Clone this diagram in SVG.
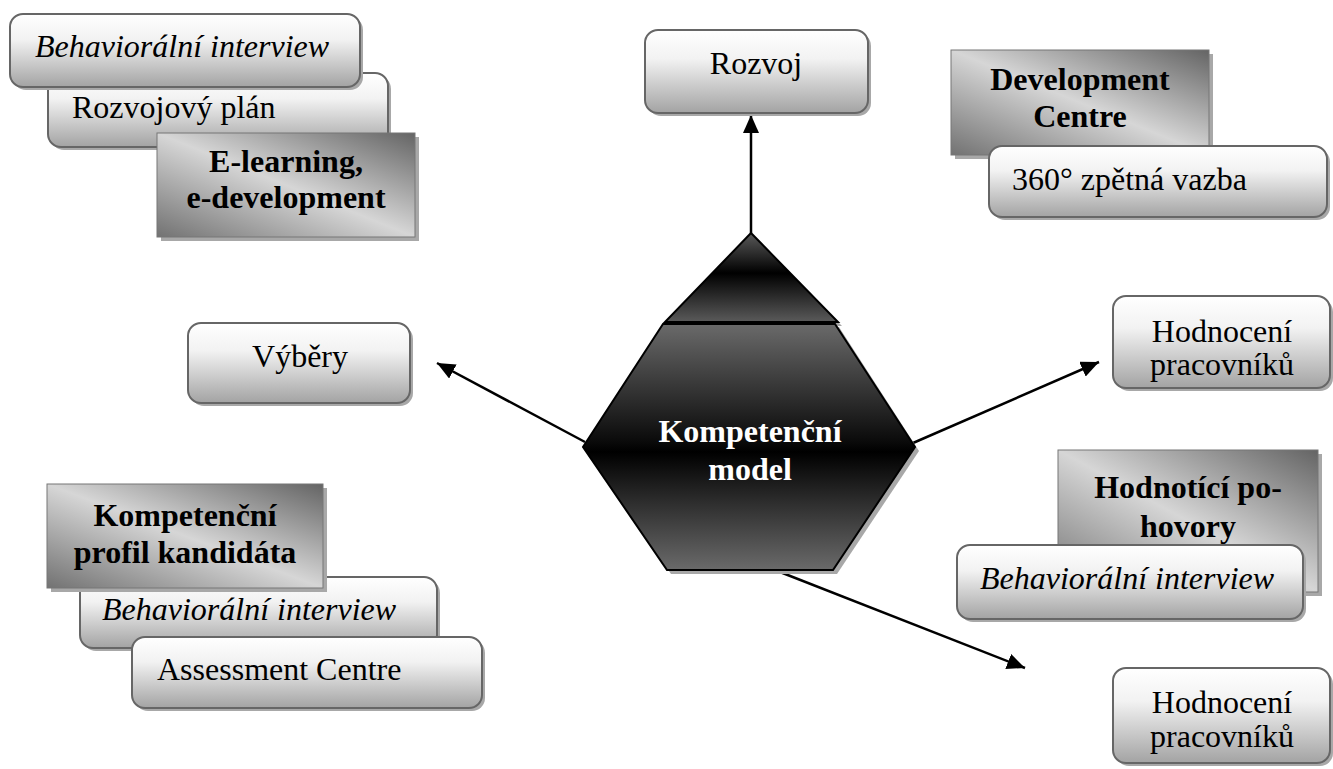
<svg xmlns="http://www.w3.org/2000/svg" width="1333" height="769" viewBox="0 0 1333 769" font-family="'Liberation Serif', 'Times New Roman', 'DejaVu Serif', serif">
<defs>
<linearGradient id="gBox" x1="0" y1="0" x2="0" y2="1">
<stop offset="0" stop-color="#ffffff"/>
<stop offset="0.35" stop-color="#f2f2f2"/>
<stop offset="1" stop-color="#a3a3a3"/>
</linearGradient>
<linearGradient id="gDark" x1="0" y1="1" x2="1" y2="0">
<stop offset="0" stop-color="#727272"/>
<stop offset="0.5" stop-color="#d6d6d6"/>
<stop offset="1" stop-color="#646464"/>
</linearGradient>
<linearGradient id="gHex" x1="0" y1="0" x2="0" y2="1">
<stop offset="0" stop-color="#6a6a6a"/>
<stop offset="0.48" stop-color="#0a0a0a"/>
<stop offset="0.52" stop-color="#000000"/>
<stop offset="1" stop-color="#6a6a6a"/>
</linearGradient>
<linearGradient id="gTri" x1="0" y1="0" x2="0" y2="1">
<stop offset="0" stop-color="#5a5a5a"/>
<stop offset="0.45" stop-color="#000000"/>
<stop offset="1" stop-color="#5a5a5a"/>
</linearGradient>
<marker id="arr" markerUnits="userSpaceOnUse" markerWidth="20" markerHeight="16" refX="18" refY="8" orient="auto">
<path d="M0,0 L18,8 L0,16 Z" fill="#000"/>
</marker>
<style>
.box{fill:url(#gBox);stroke:#666;stroke-width:2}
.dark{fill:url(#gDark);stroke:#777;stroke-width:1}
.sh{fill:#a8a8a8}
text{font-family:'Liberation Serif','Times New Roman','DejaVu Serif',serif;font-size:32px;fill:#000}
.i{font-style:italic}
.b{font-weight:bold}
.m{text-anchor:middle}
.w{fill:#fff}
.con{stroke:#000;stroke-width:2.5;fill:none;marker-end:url(#arr)}
</style>
</defs>

<g id="connectors">
<line class="con" x1="751" y1="233" x2="751" y2="115"/>
<line class="con" x1="585" y1="442" x2="437" y2="363"/>
<line class="con" x1="913" y1="443" x2="1099" y2="362"/>
<line class="con" x1="780" y1="572" x2="1025" y2="668"/>
</g>

<g id="center">
<polygon class="sh" points="755,237 842,326 669,326"/>
<polygon class="sh" points="667,327 839,327 919,451 837,574 671,574 587,451"/>
<polygon points="751,233 838,322 665,322" fill="url(#gTri)" stroke="#000" stroke-width="2"/>
<polygon points="663,324 835,324 915,447 833,570 667,570 583,447" fill="url(#gHex)" stroke="#000" stroke-width="2"/>
<text class="b m w" x="750" y="442">Kompetenční</text>
<text class="b m w" x="750" y="480">model</text>
</g>

<g id="rozvoj">
<rect class="sh" x="648" y="33" width="223" height="83" rx="13"/>
<rect class="box" x="645" y="30" width="223" height="83" rx="13"/>
<text class="m" x="756" y="74">Rozvoj</text>
</g>

<g id="rozvojovy-plan">
<rect class="sh" x="51" y="76" width="340" height="74" rx="13"/>
<rect class="box" x="48" y="73" width="340" height="74" rx="13"/>
<text x="72" y="118">Rozvojový plán</text>
</g>
<g id="behav-tl">
<rect class="sh" x="13" y="17" width="350" height="73" rx="13"/>
<rect class="box" x="10" y="14" width="350" height="73" rx="13"/>
<text class="i" x="35" y="57">Behaviorální interview</text>
</g>
<g id="elearning">
<rect class="sh" x="161" y="137" width="258" height="104"/>
<rect class="dark" x="157" y="133" width="258" height="104"/>
<text class="b m" x="286" y="172">E-learning,</text>
<text class="b m" x="286" y="208">e-development</text>
</g>

<g id="development-centre">
<rect class="sh" x="955" y="54" width="258" height="105"/>
<rect class="dark" x="951" y="50" width="258" height="105"/>
<text class="b m" x="1080" y="90">Development</text>
<text class="b m" x="1080" y="127">Centre</text>
</g>
<g id="feedback360">
<rect class="sh" x="992" y="149" width="338" height="71" rx="13"/>
<rect class="box" x="989" y="146" width="338" height="71" rx="13"/>
<text x="1012" y="190">360° zpětná vazba</text>
</g>

<g id="vybery">
<rect class="sh" x="191" y="326" width="222" height="80" rx="13"/>
<rect class="box" x="188" y="323" width="222" height="80" rx="13"/>
<text class="m" x="300" y="367">Výběry</text>
</g>

<g id="hodnoceni-1">
<rect class="sh" x="1116" y="299" width="217" height="92" rx="13"/>
<rect class="box" x="1113" y="296" width="217" height="92" rx="13"/>
<text class="m" x="1222" y="342">Hodnocení</text>
<text class="m" x="1222" y="375">pracovníků</text>
</g>

<g id="hodnotici-pohovory">
<rect class="sh" x="1062" y="454" width="260" height="142"/>
<rect class="dark" x="1058" y="450" width="260" height="142"/>
<text class="b m" x="1188" y="498">Hodnotící po-</text>
<text class="b m" x="1188" y="537">hovory</text>
</g>
<g id="behav-r">
<rect class="sh" x="960" y="548" width="346" height="74" rx="13"/>
<rect class="box" x="957" y="545" width="346" height="74" rx="13"/>
<text class="i" x="980" y="589">Behaviorální interview</text>
</g>

<g id="hodnoceni-2">
<rect class="sh" x="1116" y="671" width="217" height="95" rx="13"/>
<rect class="box" x="1113" y="668" width="217" height="95" rx="13"/>
<text class="m" x="1222" y="713">Hodnocení</text>
<text class="m" x="1222" y="747">pracovníků</text>
</g>

<g id="behav-bl">
<rect class="sh" x="83" y="580" width="357" height="71" rx="13"/>
<rect class="box" x="80" y="577" width="357" height="71" rx="13"/>
<text class="i" x="102" y="620">Behaviorální interview</text>
</g>
<g id="assessment">
<rect class="sh" x="135" y="640" width="350" height="71" rx="13"/>
<rect class="box" x="132" y="637" width="350" height="71" rx="13"/>
<text x="157" y="680">Assessment Centre</text>
</g>
<g id="profil-kandidata">
<rect class="sh" x="51" y="488" width="276" height="104"/>
<rect class="dark" x="47" y="484" width="276" height="104"/>
<text class="b m" x="185" y="526">Kompetenční</text>
<text class="b m" x="185" y="563">profil kandidáta</text>
</g>
</svg>
